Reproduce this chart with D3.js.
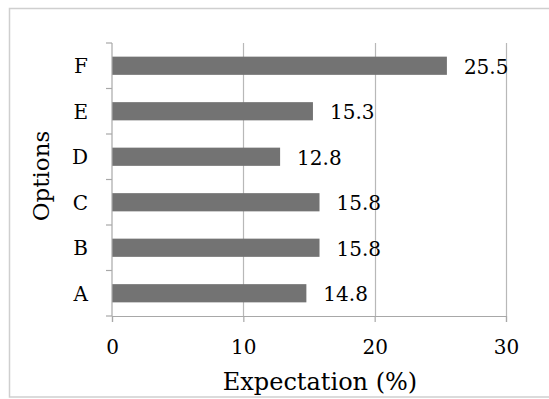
<!DOCTYPE html>
<html>
<head>
<meta charset="utf-8">
<script src="https://cdn.jsdelivr.net/npm/d3@7"></script>
<style>
  html, body { margin: 0; padding: 0; background: #fff; }
  svg text { font-family: 'DejaVu Serif', 'Liberation Serif', serif; fill: #000; }
</style>
</head>
<body>
<svg id="chart" width="549" height="399"></svg>
<script>
const categories = ['A', 'B', 'C', 'D', 'E', 'F']
const values = [14.8, 15.8, 15.8, 12.8, 15.3, 25.5]
const xTicks = [0, 10, 20, 30]
const xTitle = 'Expectation (%)'
const yTitle = 'Options'

const width = 549
const height = 399
const margin = { top: 43, right: 43, bottom: 83, left: 112 }

const svg = d3.select('#chart')

// outer chart frame
svg.append('rect')
  .attr('x', 9.5).attr('y', 8.5)
  .attr('width', 560).attr('height', 388.5)
  .attr('fill', 'none')
  .attr('stroke', '#cfcfcf')
  .attr('stroke-width', 1.5)

const x = d3.scaleLinear().domain([0, 30]).range([margin.left, width - margin.right])
const y = d3.scaleBand()
  .domain(categories.slice().reverse())
  .range([margin.top, height - margin.bottom])
  .paddingInner(0.6)
  .paddingOuter(0.3)

const plotBottom = height - margin.bottom

// vertical gridlines
svg.append('g')
  .selectAll('line')
  .data(xTicks.filter((d) => d > 0))
  .join('line')
  .attr('x1', (d) => Math.round(x(d)) + 0.5)
  .attr('x2', (d) => Math.round(x(d)) + 0.5)
  .attr('y1', margin.top)
  .attr('y2', plotBottom)
  .attr('stroke', '#b8b8b8')
  .attr('stroke-width', 1.2)

// bars
svg.append('g')
  .selectAll('rect')
  .data(values)
  .join('rect')
  .attr('x', x(0))
  .attr('y', (d, i) => y(categories[i]))
  .attr('width', (d) => x(d) - x(0))
  .attr('height', y.bandwidth())
  .attr('fill', '#737373')

// x axis
const xAxis = d3.axisBottom(x).tickValues(xTicks).tickSize(6).tickPadding(18).tickFormat(d3.format('d'))
svg.append('g')
  .attr('transform', `translate(0,${plotBottom})`)
  .call(xAxis)
  .call((g) => g.select('.domain').attr('stroke', '#a8a8a8').attr('stroke-width', 1.2))
  .call((g) => g.selectAll('.tick line').attr('stroke', '#a8a8a8').attr('stroke-width', 1.2))
  .call((g) => g.selectAll('.tick text')
    .attr('font-size', 20)
    .attr('font-family', null)
    .attr('fill', null))

// y axis: ticks sit on band boundaries
const step = y.step()
const boundaries = d3.range(categories.length + 1).map((i) => margin.top + i * step)
const yg = svg.append('g')
yg.append('line')
  .attr('x1', x(0)).attr('x2', x(0))
  .attr('y1', margin.top).attr('y2', plotBottom)
  .attr('stroke', '#a8a8a8').attr('stroke-width', 1.2)
yg.selectAll('line.tick')
  .data(boundaries)
  .join('line')
  .attr('class', 'tick')
  .attr('x1', x(0) - 6).attr('x2', x(0))
  .attr('y1', (d) => d).attr('y2', (d) => d)
  .attr('stroke', '#a8a8a8').attr('stroke-width', 1.2)
yg.selectAll('text')
  .data(categories)
  .join('text')
  .attr('x', x(0) - 24)
  .attr('y', (d) => y(d) + y.bandwidth() / 2 + 7.5)
  .attr('text-anchor', 'end')
  .attr('font-size', 20)
  .text((d) => d)

// value labels
svg.append('g')
  .selectAll('text')
  .data(values)
  .join('text')
  .attr('x', (d) => x(d) + 17)
  .attr('y', (d, i) => y(categories[i]) + y.bandwidth() / 2 + 8)
  .attr('font-size', 20)
  .text((d) => d.toFixed(1))

// axis titles
svg.append('text')
  .attr('x', 320)
  .attr('y', 390)
  .attr('text-anchor', 'middle')
  .attr('font-size', 24)
  .text(xTitle)

svg.append('text')
  .attr('transform', `translate(49,176) rotate(-90)`)
  .attr('text-anchor', 'middle')
  .attr('font-size', 23)
  .text(yTitle)
</script>
</body>
</html>
